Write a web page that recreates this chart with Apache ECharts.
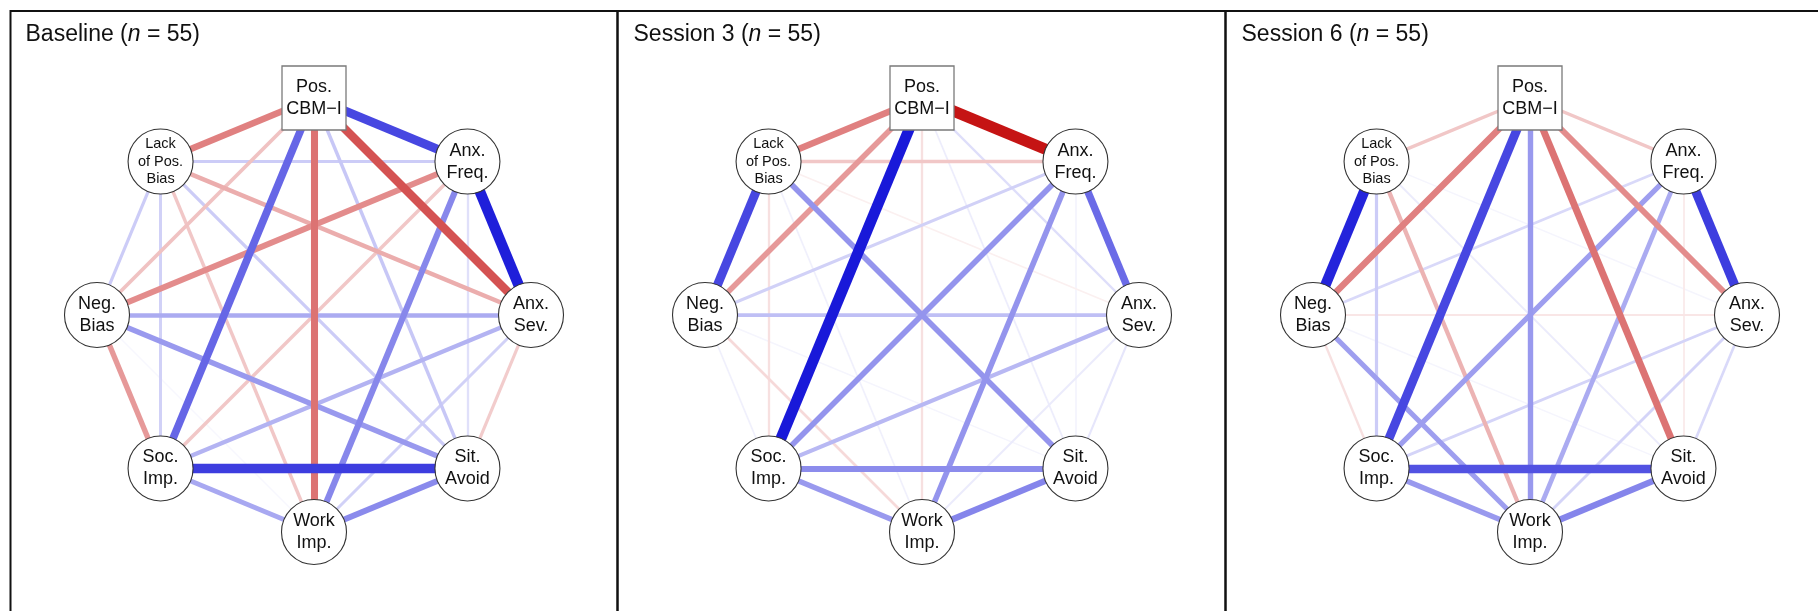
<!DOCTYPE html>
<html><head><meta charset="utf-8">
<script src="https://cdn.jsdelivr.net/npm/echarts@6/dist/echarts.min.js"></script>
<style>html,body{margin:0;padding:0;background:#fff}#c{width:1818px;height:611px}</style>
</head><body><div id="c"></div>
<script>
// ---- data ----
const nodeNames = ['Pos.\nCBM\u2212I', 'Anx.\nFreq.', 'Anx.\nSev.', 'Sit.\nAvoid', 'Work\nImp.', 'Soc.\nImp.', 'Neg.\nBias', 'Lack\nof Pos.\nBias'];
const panelTitles = ['Baseline', 'Session 3', 'Session 6'];
const sampleSizes = [55, 55, 55];
// node index pairs (0 = Pos. CBM-I, clockwise)
const edgePairs = [
  [0,1],[0,2],[0,3],[0,4],[0,5],[0,6],[0,7],
  [1,2],[1,3],[1,4],[1,5],[1,6],[1,7],
  [2,3],[2,4],[2,5],[2,6],[2,7],
  [3,4],[3,5],[3,6],[3,7],
  [4,5],[4,6],[4,7],
  [5,6],[5,7],
  [6,7]
];
const baselineWeights = [
  0.72, -0.68, 0.22, -0.55, 0.60, -0.24, -0.50,
  0.88, 0.12, 0.47, -0.22, -0.45, 0.20,
  -0.20, 0.18, 0.30, 0.33, -0.32,
  0.46, 0.76, 0.40, 0.20,
  0.34, 0.03, -0.22,
  -0.40, 0.18,
  0.20
];
const session3Weights = [
  -0.92, 0.13, 0.07, -0.12, 0.90, -0.40, -0.50,
  0.58, 0.05, 0.42, 0.42, 0.18, -0.22,
  0.10, 0.08, 0.28, 0.25, -0.06,
  0.48, 0.45, 0.04, 0.42,
  0.40, -0.15, 0.06,
  0.06, -0.12,
  0.72
];
const session6Weights = [
  -0.22, -0.45, -0.55, 0.40, 0.72, -0.50, -0.22,
  0.76, -0.08, 0.33, 0.38, 0.15, 0.00,
  0.15, 0.17, 0.17, -0.10, 0.04,
  0.48, 0.68, 0.04, 0.08,
  0.40, 0.38, -0.30,
  -0.12, 0.20,
  0.86
];
const panelWeights = [baselineWeights, session3Weights, session6Weights];

// ---- styling helpers ----
const FONT = '"Liberation Sans", Arial, Helvetica, sans-serif';
const POS_RGB = [0, 0, 213], NEG_RGB = [192, 0, 0];
function edgeColor(w) {
  const a = Math.min(1, Math.abs(w));
  const b = w >= 0 ? POS_RGB : NEG_RGB;
  const c = b.map(v => Math.round(255 * (1 - a) + v * a));
  return 'rgb(' + c.join(',') + ')';
}
function edgeWidth(w) { return 1 + 11 * Math.abs(w); }

const PANEL_W = 608, CX0 = 314, CY = 315, R = 217;

const series = panelWeights.map((weights, k) => {
  const nodes = nodeNames.map((name, i) => {
    const ang = Math.PI / 2 - i * Math.PI / 4;
    const isSquare = i === 0;
    const small = name.split('\n').length > 2;
    return {
      name: name,
      x: Math.round(Math.cos(ang) * R * 1000) / 1000,
      y: Math.round(-Math.sin(ang) * R * 1000) / 1000,
      symbol: isSquare ? 'rect' : 'circle',
      symbolSize: isSquare ? 64 : 65,
      itemStyle: { color: '#fff', borderColor: isSquare ? '#7a7a7a' : '#333', borderWidth: isSquare ? 1.3 : 1.1 },
      label: small ? { fontSize: 14.5, lineHeight: 17.5 } : {}
    };
  });
  const links = edgePairs.map((p, j) => ({ p, w: weights[j] }))
    .filter(e => e.w !== 0)
    .sort((a, b) => Math.abs(a.w) - Math.abs(b.w))
    .map(e => ({
      source: nodeNames[e.p[0]], target: nodeNames[e.p[1]], value: e.w,
      lineStyle: { color: edgeColor(e.w), width: edgeWidth(e.w), opacity: 1, curveness: 0 }
    }));
  const cx = CX0 + PANEL_W * k;
  return {
    type: 'graph', layout: 'none', roam: false, silent: true,
    left: cx - R, top: CY - R, width: 2 * R, height: 2 * R,
    data: nodes, links: links,
    label: { show: true, position: 'inside', color: '#111', fontFamily: FONT, fontSize: 18, lineHeight: 22 },
    lineStyle: { opacity: 1 },
    emphasis: { disabled: true }
  };
});

const titles = panelTitles.map((t, k) => ({
  text: '{a|' + t + ' (}{i|n}{a| = ' + sampleSizes[k] + ')}',
  left: 25.5 + PANEL_W * k, top: 23.5, padding: 0,
  textStyle: {
    fontWeight: 'normal', fontSize: 23, fontFamily: FONT, color: '#111',
    rich: {
      a: { fontSize: 23, fontFamily: FONT, color: '#111', fontWeight: 'normal', lineHeight: 23 },
      i: { fontSize: 23, fontFamily: FONT, color: '#111', fontWeight: 'normal', fontStyle: 'italic', lineHeight: 23 }
    }
  }
}));

const frames = panelTitles.map((t, k) => ({
  type: 'rect', silent: true,
  shape: { x: k === 0 ? 10.5 : 617.5 + 608 * (k - 1), y: 11, width: k === 0 ? 607 : 608, height: 700 },
  style: { fill: 'none', stroke: '#111', lineWidth: 2 }
}));

const chart = echarts.init(document.getElementById('c'), null, { renderer: 'canvas' });
chart.setOption({
  backgroundColor: '#fff',
  animation: false,
  title: titles,
  graphic: frames,
  series: series
});
</script></body></html>
